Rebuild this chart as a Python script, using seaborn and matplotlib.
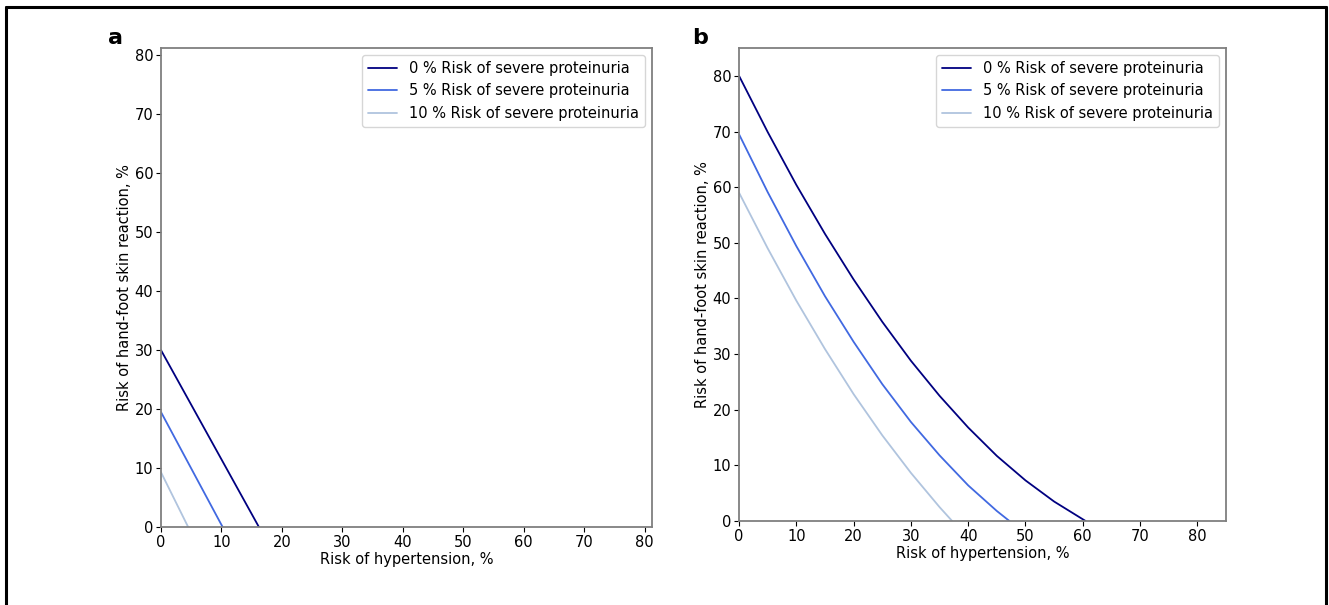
import numpy as np
import pandas as pd
import matplotlib
matplotlib.use("Agg")
import matplotlib.pyplot as plt
import seaborn as sns
from matplotlib.lines import Line2D

# values
labels = ["0 % Risk of severe proteinuria",
          "5 % Risk of severe proteinuria",
          "10 % Risk of severe proteinuria"]
colors = ["navy", "royalblue", "lightsteelblue"]

# panel a (straight lines)
a_x0 = [0, 16.2]
a_y0 = [30.0, 0]
a_x5 = [0, 10.2]
a_y5 = [19.5, 0]
a_x10 = [0, 4.5]
a_y10 = [9.3, 0]

# panel b (slightly convex curves)
b_x0 = [0, 5, 10, 15, 20, 25, 30, 35, 40, 45, 50, 55, 60.5]
b_y0 = [80.0, 69.9, 60.4, 51.6, 43.4, 35.8, 28.8, 22.5, 16.8, 11.7, 7.3, 3.5, 0]
b_x5 = [0, 5, 10, 15, 20, 25, 30, 35, 40, 45, 47.2]
b_y5 = [69.5, 59.1, 49.4, 40.4, 32.2, 24.6, 17.8, 11.8, 6.4, 1.8, 0]
b_x10 = [0, 5, 10, 15, 20, 25, 30, 35, 37.2]
b_y10 = [59.0, 49.0, 39.6, 30.9, 22.8, 15.4, 8.65, 2.5, 0]

ticks = [0, 10, 20, 30, 40, 50, 60, 70, 80]

sns.set_style("white")
plt.rcParams["font.family"] = ["DejaVu Sans"]
plt.rcParams["text.color"] = "black"
plt.rcParams["axes.labelcolor"] = "black"
plt.rcParams["xtick.color"] = "black"
plt.rcParams["ytick.color"] = "black"

fig = plt.figure(figsize=(13.29, 6.05), dpi=100)
ax_a = fig.add_axes([0.1211, 0.1289, 0.3695, 0.7917])
ax_b = fig.add_axes([0.5561, 0.1388, 0.3664, 0.7818])

panels = [
    (ax_a, [(a_x0, a_y0), (a_x5, a_y5), (a_x10, a_y10)], 81.2),
    (ax_b, [(b_x0, b_y0), (b_x5, b_y5), (b_x10, b_y10)], 85),
]

for ax, curves, lim in panels:
    for (xs, ys), lab, col in zip(curves, labels, colors):
        d = pd.DataFrame({"x": xs, "y": ys})
        sns.lineplot(data=d, x="x", y="y", color=col, label=lab, lw=1.3, ax=ax)
    ax.set_xlim(0, lim)
    ax.set_ylim(0, lim)
    ax.set_xticks(ticks)
    ax.set_yticks(ticks)
    ax.tick_params(labelsize=10.5, length=3.5, width=0.8, direction="out",
                   bottom=True, left=True, pad=2)
    for s in ax.spines.values():
        s.set_color("#7f7f7f")
        s.set_linewidth(1.3)
    ax.set_xlabel("Risk of hypertension, %", fontsize=10.5, labelpad=2)
    ax.set_ylabel("Risk of hand-foot skin reaction, %", fontsize=10.5, labelpad=2)
    leg = ax.legend(loc="upper right", fontsize=10.5, frameon=True)
    for t in leg.get_texts():
        t.set_color("black")

fig.text(0.081, 0.928, "a", fontsize=16, fontweight="bold")
fig.text(0.521, 0.928, "b", fontsize=16, fontweight="bold")

# black frame round the figure (top, left, right)
fig.add_artist(Line2D([0.0045, 0.0045], [0, 0.989], transform=fig.transFigure, color="black", lw=2.2))
fig.add_artist(Line2D([0.9977, 0.9977], [0, 0.989], transform=fig.transFigure, color="black", lw=2.2))
fig.add_artist(Line2D([0.0045, 0.9977], [0.989, 0.989], transform=fig.transFigure, color="black", lw=2.2))

fig.savefig("out.png", dpi=100)
